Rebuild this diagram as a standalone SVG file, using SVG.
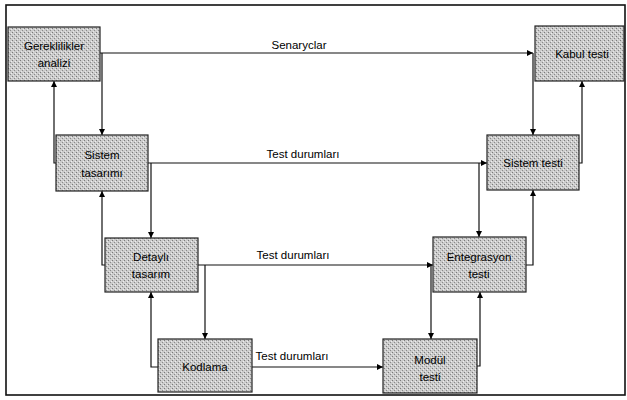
<svg xmlns="http://www.w3.org/2000/svg" width="627" height="400" viewBox="0 0 627 400">
<defs>
<pattern id="stip" width="4" height="4" patternUnits="userSpaceOnUse">
<rect width="4" height="4" fill="#cbcbcb"/>
<rect x="0" y="0" width="1" height="1" fill="#7a7a7a"/>
<rect x="2" y="2" width="1" height="1" fill="#8a8a8a"/>
<rect x="3" y="1" width="1" height="1" fill="#eeeeee"/>
<rect x="1" y="3" width="1" height="1" fill="#e6e6e6"/>
</pattern>
<marker id="ah" viewBox="0 0 10 10" refX="10" refY="5" markerWidth="6" markerHeight="6" orient="auto" markerUnits="userSpaceOnUse">
<path d="M0,0 L10,5 L0,10 z" fill="#000"/>
</marker>
<style>
.box{fill:url(#stip);stroke:#222;stroke-width:1.2}
.t{font-family:"Liberation Sans",Arial,sans-serif;font-size:11.5px;fill:#000;text-anchor:middle}
.c{fill:none;stroke:#111;stroke-width:1.2}
</style>
</defs>
<rect x="6" y="5" width="619" height="390" fill="#fff" stroke="#111" stroke-width="1.6"/>
<g id="connectors">
<path class="c" d="M100,53 H533" marker-end="url(#ah)"/>
<path class="c" d="M102,53 V135" marker-end="url(#ah)"/>
<path class="c" d="M533,53 V135" marker-end="url(#ah)"/>
<path class="c" d="M579,163 H582 V81" marker-end="url(#ah)"/>
<path class="c" d="M56,163 H54 V81" marker-end="url(#ah)"/>
<path class="c" d="M148,163 H487" marker-end="url(#ah)"/>
<path class="c" d="M151,163 V238" marker-end="url(#ah)"/>
<path class="c" d="M479,163 V237" marker-end="url(#ah)"/>
<path class="c" d="M105,265 H102 V191" marker-end="url(#ah)"/>
<path class="c" d="M526,265 H533 V190" marker-end="url(#ah)"/>
<path class="c" d="M198,265 H433" marker-end="url(#ah)"/>
<path class="c" d="M205,265 V339" marker-end="url(#ah)"/>
<path class="c" d="M431,265 V339" marker-end="url(#ah)"/>
<path class="c" d="M158,367 H151 V292" marker-end="url(#ah)"/>
<path class="c" d="M477,366 H480 V292" marker-end="url(#ah)"/>
<path class="c" d="M252,367 H383" marker-end="url(#ah)"/>
<text class="t" x="299" y="49">Senaryclar</text>
<text class="t" x="303" y="158">Test durumları</text>
<text class="t" x="293" y="259">Test durumları</text>
<text class="t" x="292" y="360">Test durumları</text>
</g>
<g id="gereklilikler">
<rect class="box" x="8" y="27" width="92" height="54"/>
<text class="t" x="54" y="50">Gereklilikler</text>
<text class="t" x="54" y="67">analizi</text>
</g>
<g id="kabul">
<rect class="box" x="535" y="26" width="89" height="55"/>
<text class="t" x="582" y="58">Kabul testi</text>
</g>
<g id="sistem-tasarimi">
<rect class="box" x="56" y="135" width="92" height="56"/>
<text class="t" x="102" y="159">Sistem</text>
<text class="t" x="102" y="177">tasarımı</text>
</g>
<g id="sistem-testi">
<rect class="box" x="487" y="135" width="92" height="55"/>
<text class="t" x="533" y="167">Sistem testi</text>
</g>
<g id="detayli">
<rect class="box" x="105" y="238" width="93" height="54"/>
<text class="t" x="151" y="261">Detaylı</text>
<text class="t" x="151" y="278">tasarım</text>
</g>
<g id="entegrasyon">
<rect class="box" x="433" y="237" width="93" height="55"/>
<text class="t" x="479" y="261">Entegrasyon</text>
<text class="t" x="479" y="278">testi</text>
</g>
<g id="kodlama">
<rect class="box" x="158" y="339" width="94" height="53"/>
<text class="t" x="205" y="371">Kodlama</text>
</g>
<g id="modul">
<rect class="box" x="383" y="339" width="94" height="54"/>
<text class="t" x="430" y="364">Modül</text>
<text class="t" x="430" y="381">testi</text>
</g>
</svg>
